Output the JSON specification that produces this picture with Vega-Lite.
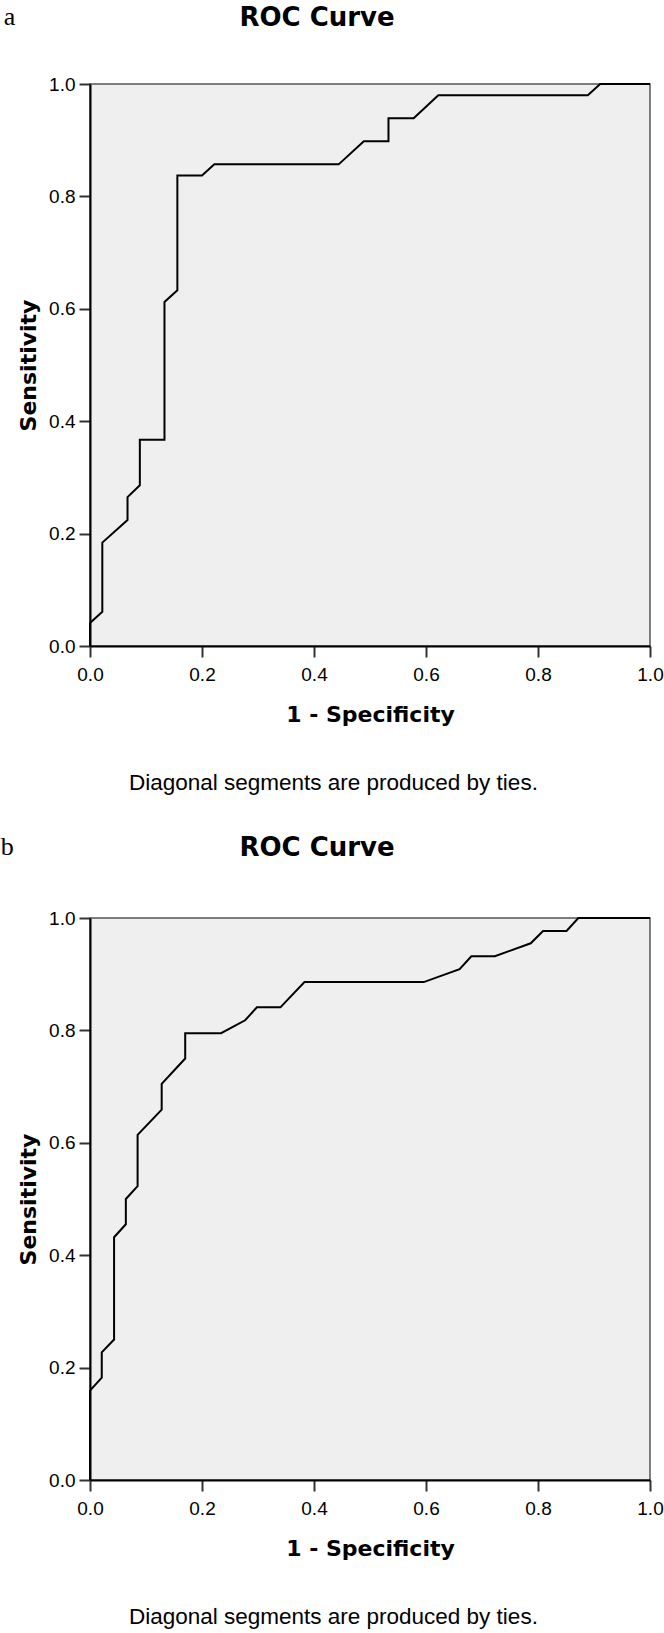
{
  "$schema": "https://vega.github.io/schema/vega-lite/v6.json",
  "background": "white",
  "padding": {"left": 0, "top": 4, "right": 0, "bottom": 0},
  "datasets": {
    "rocA": [
      {"i": 0, "fpr": 0, "tpr": 0},
      {"i": 1, "fpr": 0, "tpr": 0.041},
      {"i": 2, "fpr": 0.022, "tpr": 0.061},
      {"i": 3, "fpr": 0.022, "tpr": 0.184},
      {"i": 4, "fpr": 0.067, "tpr": 0.224},
      {"i": 5, "fpr": 0.067, "tpr": 0.265},
      {"i": 6, "fpr": 0.089, "tpr": 0.286},
      {"i": 7, "fpr": 0.089, "tpr": 0.367},
      {"i": 8, "fpr": 0.133, "tpr": 0.367},
      {"i": 9, "fpr": 0.133, "tpr": 0.612},
      {"i": 10, "fpr": 0.156, "tpr": 0.633},
      {"i": 11, "fpr": 0.156, "tpr": 0.837},
      {"i": 12, "fpr": 0.2, "tpr": 0.837},
      {"i": 13, "fpr": 0.222, "tpr": 0.857},
      {"i": 14, "fpr": 0.444, "tpr": 0.857},
      {"i": 15, "fpr": 0.489, "tpr": 0.898},
      {"i": 16, "fpr": 0.533, "tpr": 0.898},
      {"i": 17, "fpr": 0.533, "tpr": 0.939},
      {"i": 18, "fpr": 0.578, "tpr": 0.939},
      {"i": 19, "fpr": 0.622, "tpr": 0.98},
      {"i": 20, "fpr": 0.889, "tpr": 0.98},
      {"i": 21, "fpr": 0.911, "tpr": 1.0},
      {"i": 22, "fpr": 1.0, "tpr": 1.0}
    ],
    "rocB": [
      {"i": 0, "fpr": 0, "tpr": 0},
      {"i": 1, "fpr": 0, "tpr": 0.159},
      {"i": 2, "fpr": 0.021, "tpr": 0.182},
      {"i": 3, "fpr": 0.021, "tpr": 0.227},
      {"i": 4, "fpr": 0.043, "tpr": 0.25},
      {"i": 5, "fpr": 0.043, "tpr": 0.432},
      {"i": 6, "fpr": 0.064, "tpr": 0.455},
      {"i": 7, "fpr": 0.064, "tpr": 0.5},
      {"i": 8, "fpr": 0.085, "tpr": 0.523},
      {"i": 9, "fpr": 0.085, "tpr": 0.614},
      {"i": 10, "fpr": 0.128, "tpr": 0.659},
      {"i": 11, "fpr": 0.128, "tpr": 0.705},
      {"i": 12, "fpr": 0.17, "tpr": 0.75},
      {"i": 13, "fpr": 0.17, "tpr": 0.795},
      {"i": 14, "fpr": 0.234, "tpr": 0.795},
      {"i": 15, "fpr": 0.277, "tpr": 0.818},
      {"i": 16, "fpr": 0.298, "tpr": 0.841},
      {"i": 17, "fpr": 0.34, "tpr": 0.841},
      {"i": 18, "fpr": 0.383, "tpr": 0.886},
      {"i": 19, "fpr": 0.596, "tpr": 0.886},
      {"i": 20, "fpr": 0.66, "tpr": 0.909},
      {"i": 21, "fpr": 0.681, "tpr": 0.932},
      {"i": 22, "fpr": 0.723, "tpr": 0.932},
      {"i": 23, "fpr": 0.787, "tpr": 0.955},
      {"i": 24, "fpr": 0.809, "tpr": 0.977},
      {"i": 25, "fpr": 0.851, "tpr": 0.977},
      {"i": 26, "fpr": 0.872, "tpr": 1.0},
      {"i": 27, "fpr": 1.0, "tpr": 1.0}
    ]
  },
  "vconcat": [
    {
      "title": {"text": "a", "orient": "left", "angle": 0, "anchor": "end", "frame": "bounds", "align": "right", "baseline": "top", "offset": -10, "font": "Liberation Serif", "fontSize": 26, "fontWeight": "normal", "color": "black"},
      "vconcat": [
        {
          "title": {"text": "Diagonal segments are produced by ties.", "orient": "bottom", "anchor": "middle", "frame": "bounds", "font": "Liberation Sans", "fontSize": 22.5, "fontWeight": "normal", "offset": 46, "dx": -7, "color": "black"},
          "vconcat": [
            {
              "title": {"text": "ROC Curve", "anchor": "middle", "frame": "group", "font": "DejaVu Sans", "fontSize": 26, "fontWeight": "bold", "offset": 44, "dx": -53, "color": "black"},
              "width": 560,
              "height": 562,
              "data": {"name": "rocA"},
              "mark": {"type": "line", "color": "black", "strokeWidth": 2, "interpolate": "linear"},
              "encoding": {
                "x": {"field": "fpr", "type": "quantitative", "scale": {"domain": [0, 1], "nice": false}, "axis": {"title": "1 - Specificity", "values": [0, 0.2, 0.4, 0.6, 0.8, 1.0], "format": ".1f"}},
                "y": {"field": "tpr", "type": "quantitative", "scale": {"domain": [0, 1], "nice": false}, "axis": {"title": "Sensitivity", "values": [0, 0.2, 0.4, 0.6, 0.8, 1.0], "format": ".1f"}},
                "order": {"field": "i", "type": "quantitative"}
              }
            }
          ]
        }
      ]
    },
    {
      "title": {"text": "b", "orient": "left", "angle": 0, "anchor": "end", "frame": "bounds", "align": "right", "baseline": "top", "offset": -10, "font": "Liberation Serif", "fontSize": 26, "fontWeight": "normal", "color": "black"},
      "vconcat": [
        {
          "title": {"text": "Diagonal segments are produced by ties.", "orient": "bottom", "anchor": "middle", "frame": "bounds", "font": "Liberation Sans", "fontSize": 22.5, "fontWeight": "normal", "offset": 46, "dx": -7, "color": "black"},
          "vconcat": [
            {
              "title": {"text": "ROC Curve", "anchor": "middle", "frame": "group", "font": "DejaVu Sans", "fontSize": 26, "fontWeight": "bold", "offset": 48, "dx": -53, "color": "black"},
              "width": 560,
              "height": 562,
              "data": {"name": "rocB"},
              "mark": {"type": "line", "color": "black", "strokeWidth": 2, "interpolate": "linear"},
              "encoding": {
                "x": {"field": "fpr", "type": "quantitative", "scale": {"domain": [0, 1], "nice": false}, "axis": {"title": "1 - Specificity", "values": [0, 0.2, 0.4, 0.6, 0.8, 1.0], "format": ".1f"}},
                "y": {"field": "tpr", "type": "quantitative", "scale": {"domain": [0, 1], "nice": false}, "axis": {"title": "Sensitivity", "values": [0, 0.2, 0.4, 0.6, 0.8, 1.0], "format": ".1f"}},
                "order": {"field": "i", "type": "quantitative"}
              }
            }
          ]
        }
      ]
    }
  ],
  "spacing": 39,
  "config": {
    "view": {"fill": "#efefef", "stroke": "#555555", "strokeWidth": 1.5},
    "concat": {"spacing": 0},
    "axis": {
      "grid": false,
      "domainColor": "black",
      "domainWidth": 2,
      "tickColor": "#333333",
      "tickWidth": 2,
      "tickSize": 11,
      "labelFont": "Liberation Sans",
      "labelFontSize": 19,
      "labelColor": "black",
      "labelPadding": 4,
      "labelFlush": false,
      "labelOverlap": false,
      "titleFont": "DejaVu Sans",
      "titleFontSize": 22,
      "titleFontWeight": "bold",
      "titleColor": "black"
    },
    "axisX": {"titlePadding": 20, "labelPadding": 8},
    "axisY": {"titlePadding": 8}
  }
}
